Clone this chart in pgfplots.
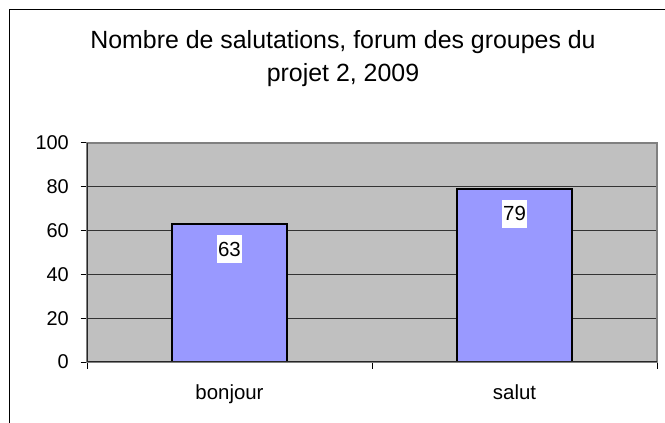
\documentclass[border=0pt]{standalone}
\usepackage{pgfplots}
\pgfplotsset{compat=1.18}
\usepackage{fontspec}
\setmainfont{Liberation Sans}
\definecolor{barblue}{HTML}{9999FF}
\definecolor{plotgrey}{HTML}{C0C0C0}
\begin{document}
\begin{tikzpicture}
\path[use as bounding box] (0,0) rectangle (665bp,423bp);
\fill[white] (0,0) rectangle (665bp,423bp);
\draw[black, line width=1.3bp] (9.5bp,0) -- (9.5bp,413.5bp) -- (665bp,413.5bp);
\node[anchor=base, inner sep=0pt, font=\fontsize{25}{30}\selectfont] at (343bp,374bp) {Nombre de salutations, forum des groupes du};
\node[anchor=base, inner sep=0pt, font=\fontsize{25}{30}\selectfont] at (343bp,341bp) {projet 2, 2009};
\begin{axis}[
  at={(87bp,61bp)}, anchor=south west,
  scale only axis, width=570bp, height=219bp,
  xmin=0.5, xmax=2.5, ymin=0, ymax=100,
  ytick={0,20,...,100},
  xtick={0.5,1.5,2.5}, xticklabels={bonjour,salut,},
  x tick label as interval,
  xtick pos=bottom, ytick pos=left,
  tick align=outside, major tick length=6.5bp,
  tick style={black, line width=1bp},
  ymajorgrids, xmajorgrids=false,
  grid style={black!80, line width=1.2bp},
  axis background/.style={fill=plotgrey},
  axis line style={draw=gray, line width=1.3bp},
  /pgf/number format/assume math mode=true,
  ticklabel style={font=\fontsize{20}{24}\selectfont},
  yticklabel style={inner sep=0pt, xshift=-11.5bp},
  xticklabel style={anchor=base, inner sep=0pt, yshift=-30.5bp, font=\fontsize{20.5}{24}\selectfont},
  ybar, bar width=115bp,
  nodes near coords,
  nodes near coords style={anchor=north, yshift=-10bp, fill=white, inner xsep=1.5bp, inner ysep=7bp, font=\fontsize{20.5}{24}\selectfont, text=black},
]
\addplot[fill=barblue, draw=black, line width=1.5bp] coordinates {(1,63) (2,79)};
\draw[black!85, line width=1.3bp] (axis cs:0.5,100) -- (axis cs:0.5,0) -- (axis cs:2.5,0);
\end{axis}
\end{tikzpicture}
\end{document}
